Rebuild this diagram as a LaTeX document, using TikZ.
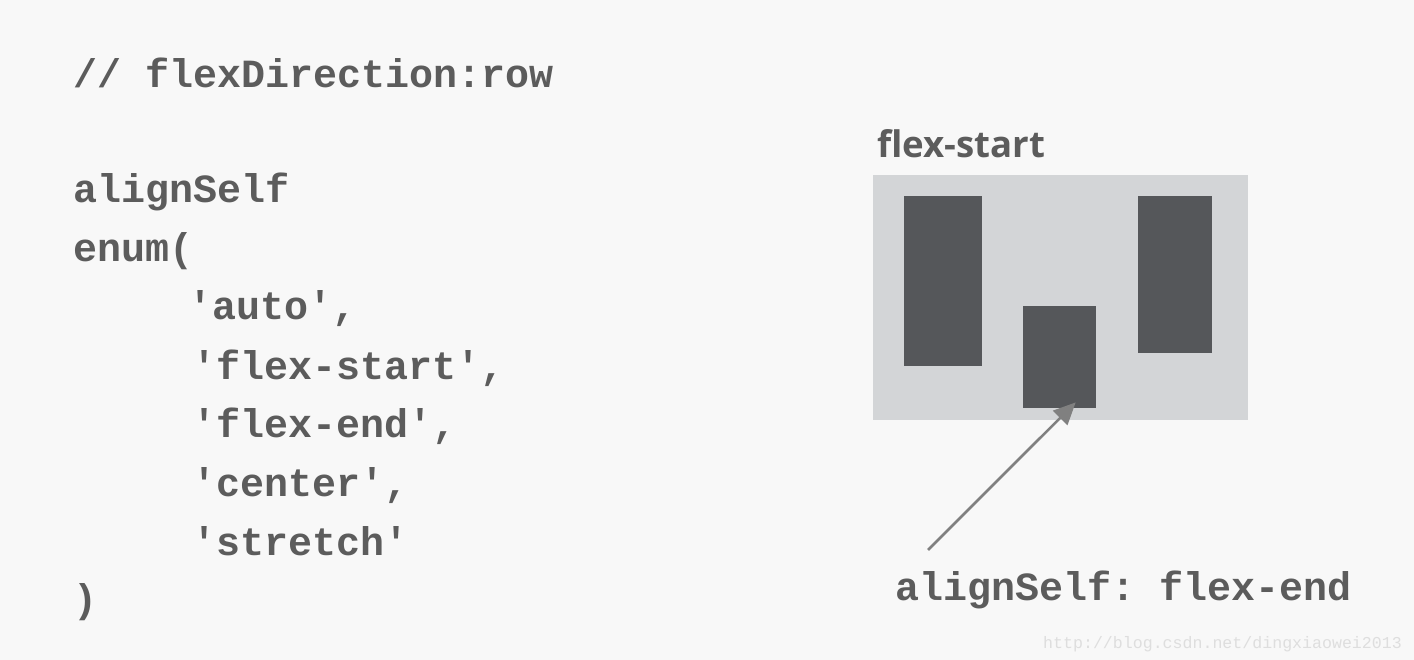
\documentclass[tikz,border=0pt]{standalone}
\usepackage{fontspec}
\usetikzlibrary{arrows.meta}
\setmonofont{Liberation Mono}
\newfontfamily\headfont{Open Sans}
\definecolor{bgcol}{HTML}{F8F8F8}
\definecolor{codecol}{HTML}{5C5C5C}
\definecolor{panelcol}{HTML}{D3D5D7}
\definecolor{blockcol}{HTML}{55575A}
\definecolor{arrowcol}{HTML}{808080}
\definecolor{markcol}{HTML}{DEDEDE}

\begin{document}
\begin{tikzpicture}[x=1pt,y=-1pt,
    code/.style={anchor=base west,inner sep=0pt,text=codecol,
      font=\fontsize{40}{40}\selectfont\ttfamily\bfseries},
    block/.style={fill=blockcol,draw=none,inner sep=0pt,anchor=north west},
    arr/.style={arrowcol,line width=2.6pt,-{Triangle[length=22pt,width=20pt]}}]
    \fill[bgcol] (0,0) rectangle (1414,660);

    % code listing
    \node[code] (cmt) at (73,88) {// flexDirection:row};
    \node[code] (prop) at (73,203) {alignSelf};
    \node[code] (enm) at (73,262) {enum(};
    \node[code] (vauto) at (188,320) {'auto',};
    \node[code] (vstart) at (192,379) {'flex-start',};
    \node[code] (vend) at (192,437) {'flex-end',};
    \node[code] (vcenter) at (192,496) {'center',};
    \node[code] (vstretch) at (192,555) {'stretch'};
    \node[code] (close) at (73,612) {)};

    % flex-start panel
    \node[anchor=base west,inner sep=0pt,text=codecol,
      font=\fontsize{36.6}{37}\selectfont\headfont\bfseries] (head) at (877,158) {flex-start};
    \node[fill=panelcol,inner sep=0pt,anchor=north west,
      minimum width=375pt,minimum height=245pt] (panel) at (873,175) {};
    \node[block,minimum width=78pt,minimum height=170pt] (blkL) at (904,196) {};
    \node[block,minimum width=73pt,minimum height=102pt] (blkM) at (1023,306) {};
    \node[block,minimum width=74pt,minimum height=157pt] (blkR) at (1138,196) {};

    % label with arrow
    \node[code] (lbl) at (895,600) {alignSelf: flex-end};
    \coordinate (tail) at (928,550);
    \draw[arr] (tail) -- ([xshift=16pt,yshift=6pt]blkM.south);

    % watermark
    \node[anchor=base west,inner sep=0pt,text=markcol,
      font=\fontsize{16.6}{17}\selectfont\ttfamily] (mark) at (1043,648) {http://blog.csdn.net/dingxiaowei2013};
\end{tikzpicture}
\end{document}
